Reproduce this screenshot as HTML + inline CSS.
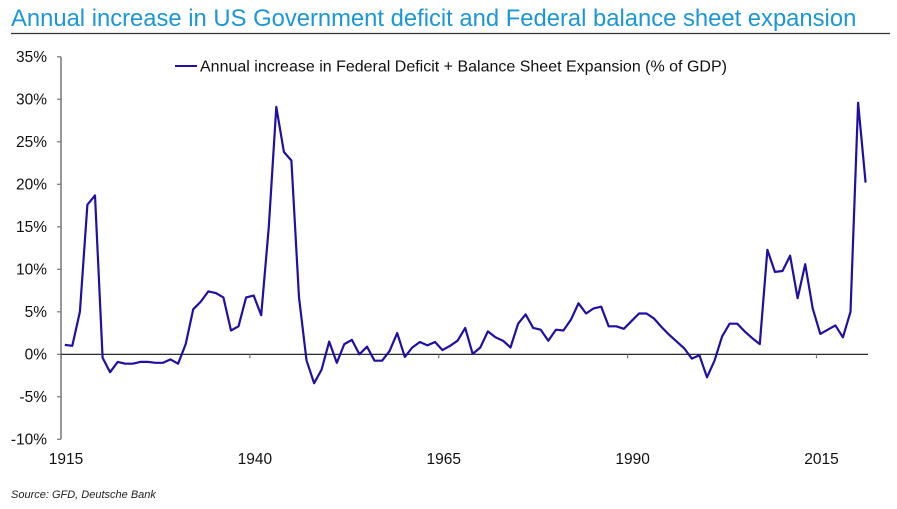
<!DOCTYPE html>
<html><head><meta charset="utf-8"><style>
body{margin:0;background:#fff;width:897px;height:504px;overflow:hidden;font-family:"Liberation Sans",Arial,sans-serif}
</style></head><body>
<svg width="897" height="504" xmlns="http://www.w3.org/2000/svg">
<text x="11" y="26" font-size="23.8" fill="#1b97d8">Annual increase in US Government deficit and Federal balance sheet expansion</text>
<line x1="11" y1="33.5" x2="890" y2="33.5" stroke="#333" stroke-width="1.2"/>
<g id="axes"></g>
<g id="series"></g>
<line x1="175" y1="66" x2="197" y2="66" stroke="#1f0fa5" stroke-width="2"/>
<text x="200" y="71.5" font-size="16" fill="#111">Annual increase in Federal Deficit + Balance Sheet Expansion (% of GDP)</text>
<text x="11" y="498" font-size="11" font-style="italic" fill="#222">Source: GFD, Deutsche Bank</text>
</svg>
<script>
const startYear = 1915;
const values = [1.1,1.0,5.0,17.6,18.7,-0.4,-2.1,-0.9,-1.1,-1.1,-0.9,-0.9,-1.0,-1.0,-0.6,-1.1,1.2,5.3,6.2,7.4,7.2,6.7,2.8,3.3,6.7,6.9,4.6,15.0,29.1,23.8,22.8,6.7,-0.7,-3.4,-1.8,1.5,-1.0,1.2,1.7,0,0.9,-0.75,-0.75,0.4,2.5,-0.3,0.8,1.45,1.05,1.45,0.5,1.0,1.6,3.1,0.05,0.8,2.7,2.0,1.6,0.8,3.6,4.7,3.1,2.9,1.6,2.9,2.8,4.1,6.0,4.8,5.4,5.6,3.3,3.3,3.0,3.9,4.8,4.8,4.2,3.2,2.3,1.5,0.7,-0.5,-0.1,-2.7,-0.75,2.1,3.6,3.6,2.7,1.9,1.2,12.3,9.7,9.8,11.6,6.6,10.6,5.4,2.4,2.9,3.4,2.0,5.0,29.6,20.2];
const yTicks = [35,30,25,20,15,10,5,0,-5,-10];
const xTicks = [1915,1940,1965,1990,2015];
const NS='http://www.w3.org/2000/svg';
function X(yr){return 61+(yr-1915)*7.555;}
function Y(v){return 354.3-v*8.5;}
function mk(tag,attrs,parent){const e=document.createElementNS(NS,tag);for(const k in attrs)e.setAttribute(k,attrs[k]);parent.appendChild(e);return e;}
const ax=document.getElementById('axes');
const ya=mk('line',{x1:61,y1:Y(35),x2:61,y2:Y(-10),stroke:'#777','stroke-width':1.5},ax);


yTicks.forEach(t=>{
  const tk=mk('line',{x1:57,y1:Y(t),x2:61,y2:Y(t),stroke:'#777','stroke-width':1.2},ax);
  
  
  const lb=mk('text',{x:47,y:Y(t)+5,'font-size':15.5,'text-anchor':'end',fill:'#111'},ax);
  lb.textContent=t+'%';
  
  
});
const xa=mk('line',{x1:61,y1:Y(0),x2:868,y2:Y(0),stroke:'#111','stroke-width':1.2},ax);


xTicks.forEach(t=>{
  const tk=mk('line',{x1:X(t),y1:Y(0),x2:X(t),y2:Y(0)+4,stroke:'#777','stroke-width':1.2},ax);
  
  
  const lb=mk('text',{x:X(t)+5,y:464,'font-size':15.5,'text-anchor':'middle',fill:'#111'},ax);
  lb.textContent=t;
  
  
});
const pts=values.map((v,i)=>X(startYear+i+0.5).toFixed(1)+','+Y(v).toFixed(1)).join(' ');
const pl=mk('polyline',{points:pts,fill:'none',stroke:'#1f0fa5','stroke-width':2.2,'stroke-linejoin':'round'},document.getElementById('series'));


</script>
</body></html>
